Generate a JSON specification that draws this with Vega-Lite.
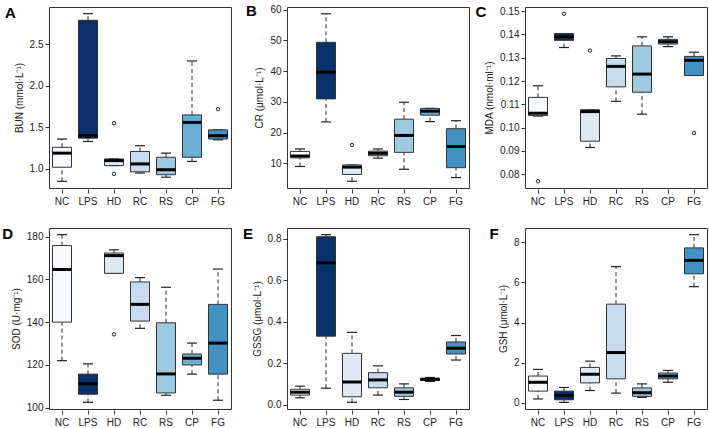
{
"$schema":"https://vega.github.io/schema/vega-lite/v6.json",
"padding":{"left":1,"top":3,"right":2,"bottom":2},
"columns":3,
"bounds":"flush",
"spacing":{"row":40,"column":56},
"config":{"font":"Liberation Sans","view":{"stroke":"#333","strokeWidth":1},
"axis":{"labelFontSize":10,"labelColor":"#222","titleFontSize":10,"titleFontWeight":"normal","titleColor":"#222","tickColor":"#333","domain":false,"grid":false,"tickSize":4,"labelPadding":2,"titlePadding":5},
"axisX":{"labelAngle":0,"labelPadding":3,"offset":1},
"title":{"fontSize":15,"fontWeight":"bold","anchor":"start","frame":"bounds","offset":-14,"dx":-9,"color":"#000"}},
"datasets":{
"A":[{"g":"NC","lo":0.85,"q1":1.02,"med":1.19,"q3":1.26,"hi":1.36},{"g":"LPS","lo":1.33,"q1":1.37,"med":1.40,"q3":2.79,"hi":2.87},{"g":"HD","lo":1.04,"q1":1.04,"med":1.10,"q3":1.12,"hi":1.12},{"g":"RC","lo":0.95,"q1":0.965,"med":1.06,"q3":1.21,"hi":1.28},{"g":"RS","lo":0.90,"q1":0.93,"med":0.99,"q3":1.14,"hi":1.19},{"g":"CP","lo":1.09,"q1":1.14,"med":1.56,"q3":1.65,"hi":2.30},{"g":"FG","lo":1.35,"q1":1.36,"med":1.40,"q3":1.47,"hi":1.47}],
"A_out":[{"g":"HD","v":1.55},{"g":"HD","v":0.94},{"g":"FG","v":1.72}],
"B":[{"g":"NC","lo":9.0,"q1":11.8,"med":12.4,"q3":13.9,"hi":14.7},{"g":"LPS","lo":23.5,"q1":31.0,"med":39.7,"q3":49.4,"hi":58.7},{"g":"HD","lo":4.2,"q1":6.4,"med":8.8,"q3":9.5,"hi":9.5},{"g":"RC","lo":11.7,"q1":12.5,"med":13.3,"q3":14.0,"hi":14.7},{"g":"RS","lo":8.1,"q1":13.6,"med":19.1,"q3":24.4,"hi":29.9},{"g":"CP","lo":23.6,"q1":25.7,"med":27.0,"q3":27.9,"hi":27.9},{"g":"FG","lo":5.4,"q1":8.6,"med":15.5,"q3":21.3,"hi":23.9}],
"B_out":[{"g":"HD","v":16.0}],
"C":[{"g":"NC","lo":0.1050,"q1":0.1052,"med":0.1062,"q3":0.1130,"hi":0.1180},{"g":"LPS","lo":0.1344,"q1":0.1375,"med":0.1390,"q3":0.1404,"hi":0.1404},{"g":"HD","lo":0.0915,"q1":0.0942,"med":0.1069,"q3":0.1077,"hi":0.1077},{"g":"RC","lo":0.1113,"q1":0.1175,"med":0.1263,"q3":0.1297,"hi":0.1308},{"g":"RS","lo":0.1058,"q1":0.1152,"med":0.1230,"q3":0.1351,"hi":0.1390},{"g":"CP","lo":0.1348,"q1":0.1359,"med":0.1369,"q3":0.1379,"hi":0.1390},{"g":"FG","lo":0.1224,"q1":0.1224,"med":0.1289,"q3":0.1306,"hi":0.1324}],
"C_out":[{"g":"NC","v":0.0770},{"g":"LPS","v":0.1489},{"g":"HD","v":0.1331},{"g":"FG","v":0.0977}],
"D":[{"g":"NC","lo":122.0,"q1":140.0,"med":164.6,"q3":175.8,"hi":180.9},{"g":"LPS","lo":102.5,"q1":106.3,"med":111.2,"q3":115.7,"hi":120.5},{"g":"HD","lo":162.8,"q1":162.8,"med":171.1,"q3":172.3,"hi":173.8},{"g":"RC","lo":137.1,"q1":140.5,"med":148.3,"q3":158.8,"hi":160.8},{"g":"RS","lo":105.8,"q1":106.9,"med":115.8,"q3":139.7,"hi":156.3},{"g":"CP","lo":115.7,"q1":120.0,"med":123.1,"q3":125.1,"hi":130.2},{"g":"FG","lo":103.5,"q1":115.7,"med":130.2,"q3":148.3,"hi":164.8}],
"D_out":[{"g":"HD","v":134.3}],
"E":[{"g":"NC","lo":0.033,"q1":0.046,"med":0.060,"q3":0.074,"hi":0.089},{"g":"LPS","lo":0.079,"q1":0.33,"med":0.683,"q3":0.809,"hi":0.819},{"g":"HD","lo":0.011,"q1":0.038,"med":0.109,"q3":0.247,"hi":0.348},{"g":"RC","lo":0.046,"q1":0.081,"med":0.119,"q3":0.154,"hi":0.187},{"g":"RS","lo":0.025,"q1":0.040,"med":0.060,"q3":0.081,"hi":0.100},{"g":"CP","lo":0.112,"q1":0.117,"med":0.122,"q3":0.127,"hi":0.131},{"g":"FG","lo":0.215,"q1":0.244,"med":0.272,"q3":0.302,"hi":0.333}],
"F":[{"g":"NC","lo":0.20,"q1":0.59,"med":1.03,"q3":1.34,"hi":1.67},{"g":"LPS","lo":0.03,"q1":0.16,"med":0.38,"q3":0.59,"hi":0.77},{"g":"HD","lo":0.62,"q1":1.00,"med":1.43,"q3":1.77,"hi":2.08},{"g":"RC","lo":0.49,"q1":1.20,"med":2.51,"q3":4.92,"hi":6.79},{"g":"RS","lo":0.28,"q1":0.33,"med":0.51,"q3":0.75,"hi":0.95},{"g":"CP","lo":1.03,"q1":1.20,"med":1.34,"q3":1.49,"hi":1.62},{"g":"FG","lo":5.79,"q1":6.43,"med":7.10,"q3":7.72,"hi":8.38}]
},
"concat":[
{"width":182,"height":181,"title":{"text":"A"},"data":{"name":"A"},
"encoding":{"x":{"field":"g","type":"nominal","scale":{"domain":["NC","LPS","HD","RC","RS","CP","FG"],"paddingInner":0,"paddingOuter":0},"axis":{"title":null}}},
"layer":[
{"mark":{"type":"rule","strokeDash":[4,3],"color":"#222"},"encoding":{"y":{"field":"lo","type":"quantitative","scale":{"domain":[0.77,2.95],"nice":false,"zero":false},"axis":{"values":[1.0,1.5,2.0,2.5],"format":".1f"},"title":"BUN (mmol·L⁻¹)"},"y2":{"field":"q1"}}},
{"mark":{"type":"rule","strokeDash":[4,3],"color":"#222"},"encoding":{"y":{"field":"q3","type":"quantitative","scale":{"domain":[0.77,2.95],"nice":false,"zero":false},"axis":{"values":[1.0,1.5,2.0,2.5],"format":".1f"},"title":"BUN (mmol·L⁻¹)"},"y2":{"field":"hi"}}},
{"mark":{"type":"tick","size":10,"thickness":1.2,"color":"#222","opacity":1},"encoding":{"y":{"field":"lo","type":"quantitative","scale":{"domain":[0.77,2.95],"nice":false,"zero":false},"axis":{"values":[1.0,1.5,2.0,2.5],"format":".1f"},"title":"BUN (mmol·L⁻¹)"}}},
{"mark":{"type":"tick","size":10,"thickness":1.2,"color":"#222","opacity":1},"encoding":{"y":{"field":"hi","type":"quantitative","scale":{"domain":[0.77,2.95],"nice":false,"zero":false},"axis":{"values":[1.0,1.5,2.0,2.5],"format":".1f"},"title":"BUN (mmol·L⁻¹)"}}},
{"mark":{"type":"bar","size":19,"stroke":"#333","strokeWidth":1},"encoding":{"y":{"field":"q1","type":"quantitative","scale":{"domain":[0.77,2.95],"nice":false,"zero":false},"axis":{"values":[1.0,1.5,2.0,2.5],"format":".1f"},"title":"BUN (mmol·L⁻¹)"},"y2":{"field":"q3"},"fill":{"field":"g","type":"nominal","scale":{"domain":["NC","LPS","HD","RC","RS","CP","FG"],"range":["#f7fbff","#08306b","#deebf7","#c6dbef","#9ecae1","#6baed6","#4292c6"]},"legend":null}}},
{"mark":{"type":"tick","size":19,"thickness":3,"color":"#000","opacity":1},"encoding":{"y":{"field":"med","type":"quantitative","scale":{"domain":[0.77,2.95],"nice":false,"zero":false},"axis":{"values":[1.0,1.5,2.0,2.5],"format":".1f"},"title":"BUN (mmol·L⁻¹)"}}},
{"data":{"name":"A_out"},"mark":{"type":"point","shape":"circle","size":12,"filled":false,"color":"#222","strokeWidth":1,"opacity":1},"encoding":{"y":{"field":"v","type":"quantitative","scale":{"domain":[0.77,2.95],"nice":false,"zero":false},"axis":{"values":[1.0,1.5,2.0,2.5],"format":".1f"},"title":"BUN (mmol·L⁻¹)"}}}
]},
{"width":182,"height":181,"title":{"text":"B"},"data":{"name":"B"},
"encoding":{"x":{"field":"g","type":"nominal","scale":{"domain":["NC","LPS","HD","RC","RS","CP","FG"],"paddingInner":0,"paddingOuter":0},"axis":{"title":null}}},
"layer":[
{"mark":{"type":"rule","strokeDash":[4,3],"color":"#222"},"encoding":{"y":{"field":"lo","type":"quantitative","scale":{"domain":[2.0,60.9],"nice":false,"zero":false},"axis":{"values":[10,20,30,40,50,60]},"title":"CR (μmol·L⁻¹)"},"y2":{"field":"q1"}}},
{"mark":{"type":"rule","strokeDash":[4,3],"color":"#222"},"encoding":{"y":{"field":"q3","type":"quantitative","scale":{"domain":[2.0,60.9],"nice":false,"zero":false},"axis":{"values":[10,20,30,40,50,60]},"title":"CR (μmol·L⁻¹)"},"y2":{"field":"hi"}}},
{"mark":{"type":"tick","size":10,"thickness":1.2,"color":"#222","opacity":1},"encoding":{"y":{"field":"lo","type":"quantitative","scale":{"domain":[2.0,60.9],"nice":false,"zero":false},"axis":{"values":[10,20,30,40,50,60]},"title":"CR (μmol·L⁻¹)"}}},
{"mark":{"type":"tick","size":10,"thickness":1.2,"color":"#222","opacity":1},"encoding":{"y":{"field":"hi","type":"quantitative","scale":{"domain":[2.0,60.9],"nice":false,"zero":false},"axis":{"values":[10,20,30,40,50,60]},"title":"CR (μmol·L⁻¹)"}}},
{"mark":{"type":"bar","size":19,"stroke":"#333","strokeWidth":1},"encoding":{"y":{"field":"q1","type":"quantitative","scale":{"domain":[2.0,60.9],"nice":false,"zero":false},"axis":{"values":[10,20,30,40,50,60]},"title":"CR (μmol·L⁻¹)"},"y2":{"field":"q3"},"fill":{"field":"g","type":"nominal","scale":{"domain":["NC","LPS","HD","RC","RS","CP","FG"],"range":["#f7fbff","#08306b","#deebf7","#c6dbef","#9ecae1","#6baed6","#4292c6"]},"legend":null}}},
{"mark":{"type":"tick","size":19,"thickness":3,"color":"#000","opacity":1},"encoding":{"y":{"field":"med","type":"quantitative","scale":{"domain":[2.0,60.9],"nice":false,"zero":false},"axis":{"values":[10,20,30,40,50,60]},"title":"CR (μmol·L⁻¹)"}}},
{"data":{"name":"B_out"},"mark":{"type":"point","shape":"circle","size":12,"filled":false,"color":"#222","strokeWidth":1,"opacity":1},"encoding":{"y":{"field":"v","type":"quantitative","scale":{"domain":[2.0,60.9],"nice":false,"zero":false},"axis":{"values":[10,20,30,40,50,60]},"title":"CR (μmol·L⁻¹)"}}}
]},
{"width":182,"height":181,"title":{"text":"C"},"data":{"name":"C"},
"encoding":{"x":{"field":"g","type":"nominal","scale":{"domain":["NC","LPS","HD","RC","RS","CP","FG"],"paddingInner":0,"paddingOuter":0},"axis":{"title":null}}},
"layer":[
{"mark":{"type":"rule","strokeDash":[4,3],"color":"#222"},"encoding":{"y":{"field":"lo","type":"quantitative","scale":{"domain":[0.0741,0.1518],"nice":false,"zero":false},"axis":{"values":[0.08,0.09,0.10,0.11,0.12,0.13,0.14,0.15],"format":".2f"},"title":"MDA (nmol·ml⁻¹)"},"y2":{"field":"q1"}}},
{"mark":{"type":"rule","strokeDash":[4,3],"color":"#222"},"encoding":{"y":{"field":"q3","type":"quantitative","scale":{"domain":[0.0741,0.1518],"nice":false,"zero":false},"axis":{"values":[0.08,0.09,0.10,0.11,0.12,0.13,0.14,0.15],"format":".2f"},"title":"MDA (nmol·ml⁻¹)"},"y2":{"field":"hi"}}},
{"mark":{"type":"tick","size":10,"thickness":1.2,"color":"#222","opacity":1},"encoding":{"y":{"field":"lo","type":"quantitative","scale":{"domain":[0.0741,0.1518],"nice":false,"zero":false},"axis":{"values":[0.08,0.09,0.10,0.11,0.12,0.13,0.14,0.15],"format":".2f"},"title":"MDA (nmol·ml⁻¹)"}}},
{"mark":{"type":"tick","size":10,"thickness":1.2,"color":"#222","opacity":1},"encoding":{"y":{"field":"hi","type":"quantitative","scale":{"domain":[0.0741,0.1518],"nice":false,"zero":false},"axis":{"values":[0.08,0.09,0.10,0.11,0.12,0.13,0.14,0.15],"format":".2f"},"title":"MDA (nmol·ml⁻¹)"}}},
{"mark":{"type":"bar","size":19,"stroke":"#333","strokeWidth":1},"encoding":{"y":{"field":"q1","type":"quantitative","scale":{"domain":[0.0741,0.1518],"nice":false,"zero":false},"axis":{"values":[0.08,0.09,0.10,0.11,0.12,0.13,0.14,0.15],"format":".2f"},"title":"MDA (nmol·ml⁻¹)"},"y2":{"field":"q3"},"fill":{"field":"g","type":"nominal","scale":{"domain":["NC","LPS","HD","RC","RS","CP","FG"],"range":["#f7fbff","#08306b","#deebf7","#c6dbef","#9ecae1","#6baed6","#4292c6"]},"legend":null}}},
{"mark":{"type":"tick","size":19,"thickness":3,"color":"#000","opacity":1},"encoding":{"y":{"field":"med","type":"quantitative","scale":{"domain":[0.0741,0.1518],"nice":false,"zero":false},"axis":{"values":[0.08,0.09,0.10,0.11,0.12,0.13,0.14,0.15],"format":".2f"},"title":"MDA (nmol·ml⁻¹)"}}},
{"data":{"name":"C_out"},"mark":{"type":"point","shape":"circle","size":12,"filled":false,"color":"#222","strokeWidth":1,"opacity":1},"encoding":{"y":{"field":"v","type":"quantitative","scale":{"domain":[0.0741,0.1518],"nice":false,"zero":false},"axis":{"values":[0.08,0.09,0.10,0.11,0.12,0.13,0.14,0.15],"format":".2f"},"title":"MDA (nmol·ml⁻¹)"}}}
]},
{"width":182,"height":181,"title":{"text":"D"},"data":{"name":"D"},
"encoding":{"x":{"field":"g","type":"nominal","scale":{"domain":["NC","LPS","HD","RC","RS","CP","FG"],"paddingInner":0,"paddingOuter":0},"axis":{"title":null}}},
"layer":[
{"mark":{"type":"rule","strokeDash":[4,3],"color":"#222"},"encoding":{"y":{"field":"lo","type":"quantitative","scale":{"domain":[99.4,184.0],"nice":false,"zero":false},"axis":{"values":[100,120,140,160,180]},"title":"SOD (U·mg⁻¹)"},"y2":{"field":"q1"}}},
{"mark":{"type":"rule","strokeDash":[4,3],"color":"#222"},"encoding":{"y":{"field":"q3","type":"quantitative","scale":{"domain":[99.4,184.0],"nice":false,"zero":false},"axis":{"values":[100,120,140,160,180]},"title":"SOD (U·mg⁻¹)"},"y2":{"field":"hi"}}},
{"mark":{"type":"tick","size":10,"thickness":1.2,"color":"#222","opacity":1},"encoding":{"y":{"field":"lo","type":"quantitative","scale":{"domain":[99.4,184.0],"nice":false,"zero":false},"axis":{"values":[100,120,140,160,180]},"title":"SOD (U·mg⁻¹)"}}},
{"mark":{"type":"tick","size":10,"thickness":1.2,"color":"#222","opacity":1},"encoding":{"y":{"field":"hi","type":"quantitative","scale":{"domain":[99.4,184.0],"nice":false,"zero":false},"axis":{"values":[100,120,140,160,180]},"title":"SOD (U·mg⁻¹)"}}},
{"mark":{"type":"bar","size":19,"stroke":"#333","strokeWidth":1},"encoding":{"y":{"field":"q1","type":"quantitative","scale":{"domain":[99.4,184.0],"nice":false,"zero":false},"axis":{"values":[100,120,140,160,180]},"title":"SOD (U·mg⁻¹)"},"y2":{"field":"q3"},"fill":{"field":"g","type":"nominal","scale":{"domain":["NC","LPS","HD","RC","RS","CP","FG"],"range":["#f7fbff","#08306b","#deebf7","#c6dbef","#9ecae1","#6baed6","#4292c6"]},"legend":null}}},
{"mark":{"type":"tick","size":19,"thickness":3,"color":"#000","opacity":1},"encoding":{"y":{"field":"med","type":"quantitative","scale":{"domain":[99.4,184.0],"nice":false,"zero":false},"axis":{"values":[100,120,140,160,180]},"title":"SOD (U·mg⁻¹)"}}},
{"data":{"name":"D_out"},"mark":{"type":"point","shape":"circle","size":12,"filled":false,"color":"#222","strokeWidth":1,"opacity":1},"encoding":{"y":{"field":"v","type":"quantitative","scale":{"domain":[99.4,184.0],"nice":false,"zero":false},"axis":{"values":[100,120,140,160,180]},"title":"SOD (U·mg⁻¹)"}}}
]},
{"width":182,"height":181,"title":{"text":"E"},"data":{"name":"E"},
"encoding":{"x":{"field":"g","type":"nominal","scale":{"domain":["NC","LPS","HD","RC","RS","CP","FG"],"paddingInner":0,"paddingOuter":0},"axis":{"title":null}}},
"layer":[
{"mark":{"type":"rule","strokeDash":[4,3],"color":"#222"},"encoding":{"y":{"field":"lo","type":"quantitative","scale":{"domain":[-0.021,0.851],"nice":false,"zero":false},"axis":{"values":[0,0.2,0.4,0.6,0.8],"format":".1f"},"title":"GSSG (μmol·L⁻¹)"},"y2":{"field":"q1"}}},
{"mark":{"type":"rule","strokeDash":[4,3],"color":"#222"},"encoding":{"y":{"field":"q3","type":"quantitative","scale":{"domain":[-0.021,0.851],"nice":false,"zero":false},"axis":{"values":[0,0.2,0.4,0.6,0.8],"format":".1f"},"title":"GSSG (μmol·L⁻¹)"},"y2":{"field":"hi"}}},
{"mark":{"type":"tick","size":10,"thickness":1.2,"color":"#222","opacity":1},"encoding":{"y":{"field":"lo","type":"quantitative","scale":{"domain":[-0.021,0.851],"nice":false,"zero":false},"axis":{"values":[0,0.2,0.4,0.6,0.8],"format":".1f"},"title":"GSSG (μmol·L⁻¹)"}}},
{"mark":{"type":"tick","size":10,"thickness":1.2,"color":"#222","opacity":1},"encoding":{"y":{"field":"hi","type":"quantitative","scale":{"domain":[-0.021,0.851],"nice":false,"zero":false},"axis":{"values":[0,0.2,0.4,0.6,0.8],"format":".1f"},"title":"GSSG (μmol·L⁻¹)"}}},
{"mark":{"type":"bar","size":19,"stroke":"#333","strokeWidth":1},"encoding":{"y":{"field":"q1","type":"quantitative","scale":{"domain":[-0.021,0.851],"nice":false,"zero":false},"axis":{"values":[0,0.2,0.4,0.6,0.8],"format":".1f"},"title":"GSSG (μmol·L⁻¹)"},"y2":{"field":"q3"},"fill":{"field":"g","type":"nominal","scale":{"domain":["NC","LPS","HD","RC","RS","CP","FG"],"range":["#f7fbff","#08306b","#deebf7","#c6dbef","#9ecae1","#6baed6","#4292c6"]},"legend":null}}},
{"mark":{"type":"tick","size":19,"thickness":3,"color":"#000","opacity":1},"encoding":{"y":{"field":"med","type":"quantitative","scale":{"domain":[-0.021,0.851],"nice":false,"zero":false},"axis":{"values":[0,0.2,0.4,0.6,0.8],"format":".1f"},"title":"GSSG (μmol·L⁻¹)"}}}
]},
{"width":182,"height":181,"title":{"text":"F"},"data":{"name":"F"},
"encoding":{"x":{"field":"g","type":"nominal","scale":{"domain":["NC","LPS","HD","RC","RS","CP","FG"],"paddingInner":0,"paddingOuter":0},"axis":{"title":null}}},
"layer":[
{"mark":{"type":"rule","strokeDash":[4,3],"color":"#222"},"encoding":{"y":{"field":"lo","type":"quantitative","scale":{"domain":[-0.30,8.71],"nice":false,"zero":false},"axis":{"values":[0,2,4,6,8]},"title":"GSH (μmol·L⁻¹)"},"y2":{"field":"q1"}}},
{"mark":{"type":"rule","strokeDash":[4,3],"color":"#222"},"encoding":{"y":{"field":"q3","type":"quantitative","scale":{"domain":[-0.30,8.71],"nice":false,"zero":false},"axis":{"values":[0,2,4,6,8]},"title":"GSH (μmol·L⁻¹)"},"y2":{"field":"hi"}}},
{"mark":{"type":"tick","size":10,"thickness":1.2,"color":"#222","opacity":1},"encoding":{"y":{"field":"lo","type":"quantitative","scale":{"domain":[-0.30,8.71],"nice":false,"zero":false},"axis":{"values":[0,2,4,6,8]},"title":"GSH (μmol·L⁻¹)"}}},
{"mark":{"type":"tick","size":10,"thickness":1.2,"color":"#222","opacity":1},"encoding":{"y":{"field":"hi","type":"quantitative","scale":{"domain":[-0.30,8.71],"nice":false,"zero":false},"axis":{"values":[0,2,4,6,8]},"title":"GSH (μmol·L⁻¹)"}}},
{"mark":{"type":"bar","size":19,"stroke":"#333","strokeWidth":1},"encoding":{"y":{"field":"q1","type":"quantitative","scale":{"domain":[-0.30,8.71],"nice":false,"zero":false},"axis":{"values":[0,2,4,6,8]},"title":"GSH (μmol·L⁻¹)"},"y2":{"field":"q3"},"fill":{"field":"g","type":"nominal","scale":{"domain":["NC","LPS","HD","RC","RS","CP","FG"],"range":["#f7fbff","#08306b","#deebf7","#c6dbef","#9ecae1","#6baed6","#4292c6"]},"legend":null}}},
{"mark":{"type":"tick","size":19,"thickness":3,"color":"#000","opacity":1},"encoding":{"y":{"field":"med","type":"quantitative","scale":{"domain":[-0.30,8.71],"nice":false,"zero":false},"axis":{"values":[0,2,4,6,8]},"title":"GSH (μmol·L⁻¹)"}}}
]}
]
}
